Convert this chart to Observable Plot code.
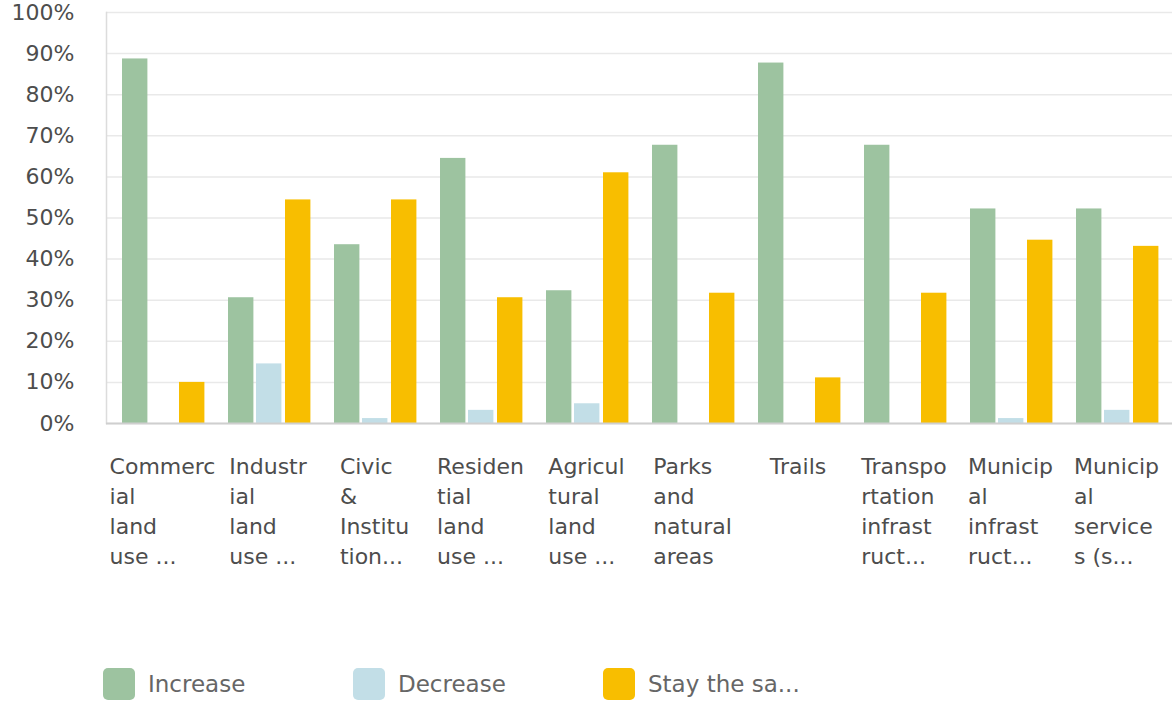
<!DOCTYPE html>
<html>
<head>
<meta charset="utf-8">
<script src="https://cdn.jsdelivr.net/npm/d3@7"></script>
<script src="https://cdn.jsdelivr.net/npm/@observablehq/plot@0.6"></script>
<style>
  html, body { margin: 0; padding: 0; background: #fff; }
  body { font-family: "DejaVu Sans", sans-serif; width: 1173px; height: 702px; overflow: hidden; }
  #legend { display: flex; margin-left: 103px; margin-top: 68px; }
  .item { width: 250px; display: flex; align-items: center; font-size: 23px; color: #666; }
  .sw { width: 32px; height: 32px; border-radius: 5px; margin-right: 13px; flex: none; }
</style>
</head>
<body>
<div id="chart"></div>
<div id="legend"></div>
<script>
// ---- data ----
const categories = [
  "Commercial land use", "Industrial land use", "Civic & Institution", "Residential land use",
  "Agricultural land use", "Parks and natural areas", "Trails", "Transportation infrastructure",
  "Municipal infrastructure", "Municipal services"
];
const tickLabels = [
  "Commerc\nial\nland\nuse ...", "Industr\nial\nland\nuse ...", "Civic\n&\nInstitu\ntion...",
  "Residen\ntial\nland\nuse ...", "Agricul\ntural\nland\nuse ...", "Parks\nand\nnatural\nareas",
  "Trails", "Transpo\nrtation\ninfrast\nruct...", "Municip\nal\ninfrast\nruct...", "Municip\nal\nservice\ns (s..."
];
const series = ["Increase", "Decrease", "Stay the same"];
const legendLabels = ["Increase", "Decrease", "Stay the sa..."];
const increase = [88.7, 30.6, 43.5, 64.5, 32.3, 67.7, 87.7, 67.7, 52.2, 52.2];
const decrease = [0, 14.5, 1.2, 3.2, 4.8, 0, 0, 0, 1.2, 3.2];
const stay     = [10.0, 54.4, 54.4, 30.6, 61.0, 31.7, 11.1, 31.7, 44.6, 43.1];
const yTicks = [0, 10, 20, 30, 40, 50, 60, 70, 80, 90, 100];

// ---- style ----
const colors = ["#9dc3a0", "#c2dee7", "#f8be00"];
const W = 1173, H = 600, ML = 106, MR = 1, MT = 12, MB = 177;
const barW = 26;
const barStart = [13, 41, 70];
const step = (W - ML - MR) / categories.length;

const values = [increase, decrease, stay];
const data = categories.flatMap((c, i) => series.map((s, j) => ({category: c, series: s, value: values[j][i]})));

const plot = Plot.plot({
  width: W, height: H,
  marginLeft: ML, marginRight: MR, marginTop: MT, marginBottom: MB,
  style: {fontFamily: "DejaVu Sans, sans-serif", fontSize: "22px", color: "#4d4d4d", background: "#fff"},
  x: {domain: categories, padding: 0, axis: null, label: null},
  y: {domain: [0, 100], axis: null, label: null},
  marks: [
    Plot.gridY(yTicks, {stroke: "#e9e9e9", strokeOpacity: 1, strokeWidth: 1.5}),
    Plot.frame({anchor: "left", stroke: "#dcdcdc", strokeWidth: 1.5}),
    ...series.map((s, j) => Plot.barY(data.filter(d => d.series === s && d.value > 0), {
      x: "category", y: "value", fill: colors[j],
      insetLeft: barStart[j], insetRight: step - barStart[j] - barW
    })),
    Plot.ruleY([0], {stroke: "#cfcfcf", strokeWidth: 2}),
    Plot.axisY(yTicks, {label: null, tickSize: 0, tickPadding: 32, tickFormat: d => d + "%", fontSize: 22, fill: "#4d4d4d"}),
    Plot.axisX({label: null, tickSize: 0, tickPadding: 29, tickFormat: d => tickLabels[categories.indexOf(d)],
      textAnchor: "start", lineAnchor: "top", lineHeight: 30 / 22, fontSize: 22, fill: "#4d4d4d"})
  ]
});
document.getElementById("chart").appendChild(plot);

// center each wrapped label block on its category (lines stay left-aligned)
plot.querySelectorAll('g[aria-label="x-axis tick label"] text').forEach(t => {
  const w = t.getBBox().width;
  t.setAttribute("transform", (t.getAttribute("transform") || "") + ` translate(${-w / 2},0)`);
});

// legend
const legend = document.getElementById("legend");
legendLabels.forEach((l, j) => {
  const it = document.createElement("div"); it.className = "item";
  const sw = document.createElement("div"); sw.className = "sw"; sw.style.background = colors[j];
  const tx = document.createElement("span"); tx.textContent = l;
  it.appendChild(sw); it.appendChild(tx); legend.appendChild(it);
});
</script>
</body>
</html>
